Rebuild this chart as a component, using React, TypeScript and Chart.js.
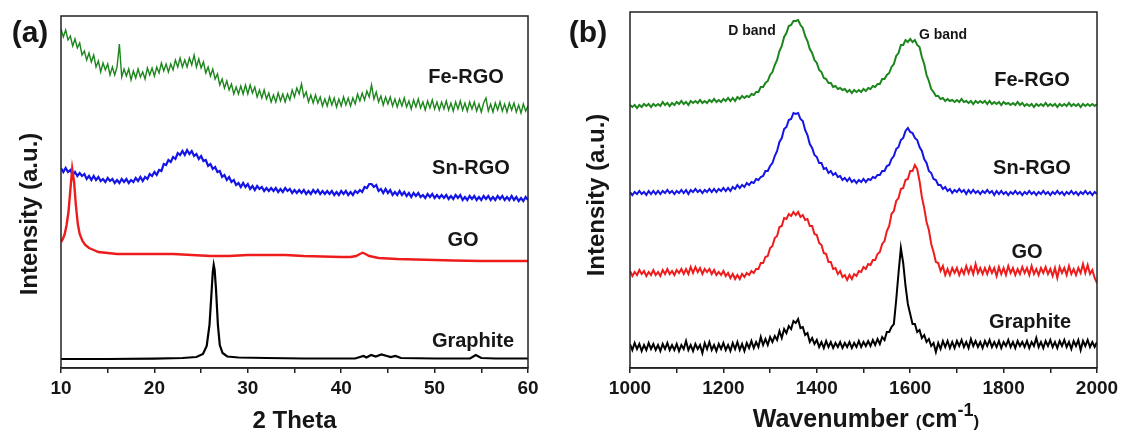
import React, { useEffect, useRef } from 'react';
import { Chart, registerables } from 'chart.js';

Chart.register(...registerables);

const FONT = '"Liberation Sans", Arial, Helvetica, sans-serif';

// ---------- Panel (a): XRD, 2 Theta ----------
const XRD_START = 10;
const XRD_STEP = 0.25;
const xrdTicksMajor = 10;

const xrdFeRGO = [
  339,331,338,328,332,322,329,320,325,313,
  317,308,315,306,313,301,307,296,305,298,
  304,293,301,293,301,324,291,299,292,299,
  288,297,290,299,291,296,289,300,293,300,
  292,301,295,305,297,304,296,304,298,308,
  301,310,301,308,301,310,303,313,301,309,
  300,306,295,301,292,299,289,294,283,289,
  280,287,278,284,274,281,274,282,274,283,
  274,283,275,281,271,278,270,278,269,275,
  266,273,266,275,267,274,266,274,268,278,
  271,280,274,284,271,276,266,273,265,273,
  265,271,262,269,262,271,263,270,261,269,
  262,271,263,270,262,270,264,274,267,275,
  268,277,271,283,269,276,266,272,263,271,
  264,271,262,269,261,269,262,270,261,267,
  259,268,261,269,260,266,258,267,260,268,
  259,266,258,266,259,267,258,265,257,266,
  259,267,258,265,257,266,259,266,257,264,
  256,265,270,257,264,256,265,258,266,257,
  264,256,265,258,265,256,263,255,264,257,
  262,
];

const xrdSnRGO = [
  200,196,200,196,198,193,196,192,195,192,
  194,189,192,188,192,188,191,187,189,186,
  190,187,189,185,188,185,189,186,189,185,
  188,186,190,187,191,187,191,189,194,192,
  196,193,198,197,204,203,208,206,211,209,
  215,213,217,213,218,214,217,212,214,209,
  212,207,208,202,204,199,201,196,197,191,
  193,188,191,186,188,183,185,181,185,181,
  184,179,182,178,182,179,181,177,180,177,
  180,177,180,176,179,176,180,177,179,175,
  178,175,178,175,178,174,177,174,178,175,
  178,174,177,174,177,174,177,173,176,173,
  177,174,177,173,176,173,177,175,178,176,
  181,180,184,184,181,183,177,179,175,179,
  175,178,173,176,173,177,173,176,172,175,
  171,175,172,175,171,173,170,174,171,174,
  170,173,170,173,170,173,169,172,169,173,
  170,173,168,171,168,172,169,172,168,171,
  168,172,169,172,168,171,168,172,169,172,
  168,171,168,172,168,171,167,170,167,171,
  168,
];

const xrdGO_x = [10,10.2,10.4,10.6,10.8,11.0,11.2,11.4,11.6,11.8,12.0,12.3,12.6,13,13.5,14,15,16,18,20,22,24,26,28,30,32,34,36,38,40,41,41.6,42,42.3,42.6,43,43.5,44,46,48,50,52,55,58,60];
const xrdGO_y = [126,129,134,143,156,178,199,186,162,144,134,127,123,120,118,116,115,114,114,114,114,113,112,112,113,113,113,112,111.5,111,111,112,114,115.3,114,112,111,110,109,108.5,108,107.5,107,107,107];

const xrdGraphite_x = [10,15,20,23,24.5,25.2,25.6,25.9,26.1,26.25,26.35,26.45,26.6,26.8,27.0,27.3,27.8,29,32,36,41.5,42.0,42.4,42.7,43.2,43.7,44.3,44.9,45.3,45.8,46.4,50,53.8,54.4,55.0,56.5,60];
const xrdGraphite_y = [9,9,9.3,10,11,14,22,43,73,96,103,98,78,43,23,15,11.5,10.5,10,9.5,9.5,11,12,10.5,13,11.5,13.5,12,11,12,10,9.5,9.5,13,10,9.5,9.5];

// ---------- Panel (b): Raman, wavenumber ----------
const RAMAN_START = 1000;
const RAMAN_STEP = 5;
const ramanTicksMajor = 200;

const ramanFeRGO = [
  263,261,263,260,263,261,264,262,264,261,
  264,262,264,262,266,263,265,262,265,263,
  266,264,267,264,266,263,267,265,267,265,
  268,265,267,265,268,266,269,266,268,266,
  269,267,270,267,270,267,271,269,272,270,
  272,271,274,273,276,276,281,281,285,287,
  293,296,303,308,317,322,331,335,342,343,
  347,347,348,343,340,332,327,319,315,308,
  305,298,296,290,289,285,285,281,282,279,
  280,278,279,276,278,275,278,276,278,276,
  279,277,280,279,282,281,284,284,289,289,
  293,295,301,304,312,315,323,323,328,326,
  329,326,328,323,321,311,304,293,287,279,
  276,272,272,269,270,267,269,267,268,266,
  268,266,269,266,267,265,267,264,267,265,
  267,265,267,264,267,264,266,264,266,263,
  266,264,265,263,265,263,266,263,265,262,
  264,262,264,261,264,262,264,262,265,262,
  264,262,264,261,264,262,264,262,265,262,
  264,262,264,261,264,262,264,262,264,262,
  264,
];

const ramanSnRGO = [
  176,173,176,174,177,174,176,173,177,174,
  177,174,177,174,177,175,178,175,177,174,
  177,175,178,175,178,174,178,176,179,176,
  178,175,178,176,179,176,179,176,179,177,
  180,177,180,177,181,179,183,180,183,181,
  185,183,186,185,189,188,191,192,197,197,
  202,205,212,217,226,230,239,241,248,249,
  255,254,255,249,247,238,233,224,220,213,
  211,205,205,199,200,195,197,193,195,191,
  192,188,190,187,190,186,188,185,188,186,
  189,186,189,188,191,190,193,193,197,197,
  202,203,209,212,219,221,228,230,237,240,
  236,235,230,228,221,217,209,205,197,195,
  189,188,183,183,179,181,177,179,175,178,
  176,179,176,178,174,178,175,178,175,177,
  174,177,175,178,175,177,173,177,174,177,
  174,176,173,176,174,177,174,176,173,176,
  174,177,174,176,173,176,174,177,174,176,
  173,176,174,177,174,176,173,176,174,177,
  174,176,173,176,174,177,174,176,173,176,
  174,
];

const ramanGO = [
  97,92,96,93,98,94,97,92,96,93,
  98,93,96,92,98,94,99,94,97,93,
  98,95,99,94,99,94,101,95,101,96,
  100,94,99,96,99,94,98,93,96,93,
  97,92,95,90,94,89,93,89,94,91,
  95,93,97,95,99,99,105,105,111,112,
  120,122,130,132,141,142,150,149,154,152,
  156,153,156,151,153,148,149,142,142,134,
  133,125,123,115,114,106,106,99,100,94,
  97,91,93,88,93,89,94,92,97,96,
  101,99,104,103,108,108,114,116,124,127,
  137,142,154,157,167,170,179,180,188,189,
  197,197,203,199,187,171,160,146,138,124,
  116,106,105,97,102,93,99,93,100,95,
  100,93,99,94,102,95,101,94,104,95,
  100,94,100,94,101,95,100,92,101,94,
  100,93,102,95,100,93,99,94,101,95,
  100,93,102,94,99,93,100,95,101,94,
  99,92,100,90,101,95,100,93,102,94,
  99,93,100,95,104,95,103,94,98,90,
  85,
];

const ramanGraphite = [
  24,18,25,19,24,17,23,18,25,19,
  24,18,23,17,24,19,25,18,23,18,
  24,17,23,19,27,18,23,17,24,19,
  23,15,25,19,26,18,23,17,24,19,
  25,18,23,17,25,19,26,18,24,17,
  25,20,27,20,26,21,31,23,29,23,
  31,26,32,28,37,30,39,35,42,39,
  47,45,49,40,41,33,35,26,30,24,
  28,21,26,20,27,21,26,20,25,21,
  26,20,25,21,26,20,25,21,27,21,
  26,22,27,22,28,23,29,24,31,28,
  36,36,41,44,68,95,120,105,82,64,
  54,44,44,36,38,30,33,26,29,22,
  25,16,25,19,27,21,27,20,26,20,
  27,22,28,21,26,20,29,22,27,21,
  26,20,27,22,28,21,26,21,27,20,
  26,22,28,21,26,20,27,22,26,21,
  27,20,26,22,30,21,26,20,27,22,
  28,21,26,20,27,22,28,21,26,19,
  27,22,28,18,27,22,28,21,26,21,
  26,
];

const seriesLabels = ['Fe-RGO', 'Sn-RGO', 'GO', 'Graphite'];
const COLORS = ['#1c861c', '#1414e6', '#ee1c1c', '#000000'];

function gridSeries(start: number, step: number, values: number[]) {
  return values.map((y, i) => ({ x: start + i * step, y }));
}
function pairSeries(xs: number[], ys: number[]) {
  return xs.map((x, i) => ({ x, y: ys[i] }));
}

type Part = { t: string; size: number; dy?: number };
type TextItem = { text?: string; parts?: Part[]; x: number; y: number; size?: number; rotate?: boolean };

const decorPlugin = {
  id: 'decor',
  afterDraw(chart: any, _args: any, opts: any) {
    const ctx = chart.ctx as CanvasRenderingContext2D;
    const a = chart.chartArea;
    ctx.save();
    ctx.strokeStyle = '#222';
    ctx.lineWidth = 1.5;
    ctx.strokeRect(a.left, a.top, a.right - a.left, a.bottom - a.top);
    ctx.fillStyle = '#161616';
    const texts: TextItem[] = opts.texts || [];
    for (const t of texts) {
      if (t.parts) {
        let total = 0;
        const widths = t.parts.map((p) => {
          ctx.font = `bold ${p.size}px ${FONT}`;
          const w = ctx.measureText(p.t).width;
          total += w;
          return w;
        });
        let x = t.x - total / 2;
        ctx.textAlign = 'left';
        ctx.textBaseline = 'alphabetic';
        t.parts.forEach((p, i) => {
          ctx.font = `bold ${p.size}px ${FONT}`;
          ctx.fillText(p.t, x, t.y + (p.dy || 0));
          x += widths[i];
        });
      } else if (t.text) {
        ctx.font = `bold ${t.size}px ${FONT}`;
        ctx.textAlign = 'center';
        ctx.textBaseline = 'middle';
        if (t.rotate) {
          ctx.save();
          ctx.translate(t.x, t.y);
          ctx.rotate(-Math.PI / 2);
          ctx.fillText(t.text, 0, 0);
          ctx.restore();
        } else {
          ctx.fillText(t.text, t.x, t.y);
        }
      }
    }
    ctx.restore();
  },
};

function lineDs(label: string, data: { x: number; y: number }[], color: string, width: number) {
  return {
    label,
    data,
    borderColor: color,
    backgroundColor: color,
    borderWidth: width,
    pointRadius: 0,
    fill: false,
    tension: 0,
  };
}

function xScale(min: number, max: number, step: number, major: number, title: any) {
  return {
    type: 'linear',
    position: 'bottom',
    min,
    max,
    afterFit: (s: any) => {
      s.height = 64;
    },
    ticks: {
      stepSize: step,
      autoSkip: false,
      maxRotation: 0,
      minRotation: 0,
      padding: 4,
      color: '#161616',
      font: { family: FONT, size: 19, weight: 'bold' },
      callback: (v: any) => (Math.round(Number(v)) % major === 0 ? String(v) : ''),
    },
    grid: { drawOnChartArea: false, drawTicks: true, tickLength: 5, color: '#222', lineWidth: 1.5 },
    border: { display: true, color: '#222', width: 1.5 },
    title,
  };
}

export default function App() {
  const refA = useRef<HTMLCanvasElement>(null);
  const refB = useRef<HTMLCanvasElement>(null);

  useEffect(() => {
    const textsA: TextItem[] = [
      { text: '(a)', x: 30, y: 34, size: 30 },
      { text: 'Intensity (a.u.)', x: 30, y: 214, size: 24, rotate: true },
      { text: seriesLabels[0], x: 466, y: 77, size: 20 },
      { text: seriesLabels[1], x: 471, y: 168, size: 20 },
      { text: seriesLabels[2], x: 463, y: 240, size: 20 },
      { text: seriesLabels[3], x: 473, y: 341, size: 20 },
    ];
    const chartA = new Chart(refA.current as HTMLCanvasElement, {
      type: 'line',
      data: {
        datasets: [
          lineDs(seriesLabels[3], pairSeries(xrdGraphite_x, xrdGraphite_y), COLORS[3], 2.2),
          lineDs(seriesLabels[2], pairSeries(xrdGO_x, xrdGO_y), COLORS[2], 2.4),
          lineDs(seriesLabels[1], gridSeries(XRD_START, XRD_STEP, xrdSnRGO), COLORS[1], 2.2),
          lineDs(seriesLabels[0], gridSeries(XRD_START, XRD_STEP, xrdFeRGO), COLORS[0], 1.4),
        ] as any,
      },
      options: {
        animation: false,
        responsive: false,
        events: [],
        layout: { padding: { left: 61, right: 32, top: 16, bottom: 0 } },
        plugins: {
          legend: { display: false },
          tooltip: { enabled: false },
          decor: { texts: textsA },
        } as any,
        scales: {
          x: xScale(10, 60, 5, xrdTicksMajor, {
            display: true,
            text: '2 Theta',
            color: '#161616',
            font: { family: FONT, size: 24, weight: 'bold', lineHeight: 1 },
            padding: { top: 0, bottom: -1 },
          }) as any,
          y: { display: false, min: 0, max: 352 },
        },
      },
      plugins: [decorPlugin as any],
    });

    const textsB: TextItem[] = [
      { text: '(b)', x: 28, y: 34, size: 30 },
      { text: 'Intensity (a.u.)', x: 37, y: 195, size: 24, rotate: true },
      { text: 'D band', x: 192, y: 31, size: 14 },
      { text: 'G band', x: 383, y: 35, size: 14 },
      { text: seriesLabels[0], x: 472, y: 80, size: 20 },
      { text: seriesLabels[1], x: 472, y: 168, size: 20 },
      { text: seriesLabels[2], x: 467, y: 252, size: 20 },
      { text: seriesLabels[3], x: 470, y: 322, size: 20 },
      {
        parts: [
          { t: 'Wavenumber ', size: 25 },
          { t: '(', size: 17, dy: 0 },
          { t: 'cm', size: 25 },
          { t: '-1', size: 18, dy: -11 },
          { t: ')', size: 17, dy: 0 },
        ],
        x: 306,
        y: 427,
      },
    ];
    const chartB = new Chart(refB.current as HTMLCanvasElement, {
      type: 'line',
      data: {
        datasets: [
          lineDs(seriesLabels[3], gridSeries(RAMAN_START, RAMAN_STEP, ramanGraphite), COLORS[3], 2),
          lineDs(seriesLabels[2], gridSeries(RAMAN_START, RAMAN_STEP, ramanGO), COLORS[2], 2),
          lineDs(seriesLabels[1], gridSeries(RAMAN_START, RAMAN_STEP, ramanSnRGO), COLORS[1], 2),
          lineDs(seriesLabels[0], gridSeries(RAMAN_START, RAMAN_STEP, ramanFeRGO), COLORS[0], 2),
        ] as any,
      },
      options: {
        animation: false,
        responsive: false,
        events: [],
        layout: { padding: { left: 70, right: 27, top: 12, bottom: 0 } },
        plugins: {
          legend: { display: false },
          tooltip: { enabled: false },
          decor: { texts: textsB },
        } as any,
        scales: {
          x: xScale(1000, 2000, 100, ramanTicksMajor, { display: false }) as any,
          y: { display: false, min: 0, max: 356 },
        },
      },
      plugins: [decorPlugin as any],
    });

    return () => {
      chartA.destroy();
      chartB.destroy();
    };
  }, []);

  return (
    <div style={{ position: 'absolute', left: 0, top: 0, width: 1124, height: 432, background: '#fff' }}>
      <canvas
        ref={refA}
        width={560}
        height={432}
        style={{ position: 'absolute', left: 0, top: 0, width: 560, height: 432 }}
      />
      <canvas
        ref={refB}
        width={564}
        height={432}
        style={{ position: 'absolute', left: 560, top: 0, width: 564, height: 432 }}
      />
    </div>
  );
}
